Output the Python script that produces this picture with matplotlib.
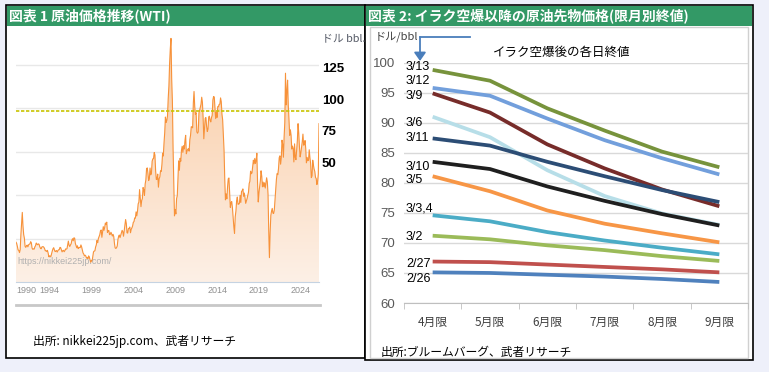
import numpy as np
import matplotlib
matplotlib.use("Agg")
import matplotlib.pyplot as plt
from matplotlib.patches import Rectangle, FancyArrowPatch
from matplotlib.colors import LinearSegmentedColormap
from matplotlib.ticker import FixedLocator

plt.rcParams['font.family'] = ['Noto Sans CJK JP', 'DejaVu Sans']

# ---------------- Data: chart 1 (WTI monthly, USD/bbl, Jan 1990 - Mar 2026) -------------
wti_start_year = 1990
wti_monthly = [
    22.9, 22.1, 20.4, 18.4, 18.2, 16.9, 18.6, 27.2, 33.7, 40.0, 32.3, 27.3,
    25.2, 20.5, 19.9, 20.8, 21.2, 20.2, 21.4, 21.7, 21.9, 23.2, 22.5, 19.5,
    18.8, 19.0, 18.9, 20.2, 20.9, 22.4, 21.8, 21.4, 21.9, 21.7, 20.3, 19.4,
    19.1, 20.1, 20.3, 20.3, 19.9, 19.1, 17.9, 18.0, 17.5, 18.2, 16.7, 14.5,
    15.0, 14.8, 14.7, 16.4, 17.9, 19.1, 19.7, 18.4, 17.5, 17.7, 18.1, 17.2,
    18.0, 18.5, 18.6, 19.9, 19.7, 18.4, 17.3, 18.0, 18.2, 17.4, 18.0, 19.0,
    18.9, 19.1, 21.3, 23.5, 21.2, 20.4, 21.3, 22.0, 24.0, 24.9, 23.7, 25.4,
    25.2, 22.2, 21.0, 19.7, 20.8, 19.2, 19.6, 19.9, 19.8, 21.3, 20.2, 18.3,
    16.7, 16.1, 15.0, 15.4, 14.9, 13.7, 14.1, 13.4, 15.0, 14.4, 12.9, 11.3,
    12.5, 12.0, 14.7, 17.3, 17.8, 17.9, 20.1, 21.3, 23.9, 22.6, 25.0, 26.1,
    27.2, 29.4, 29.9, 25.7, 28.8, 31.8, 29.7, 31.3, 33.9, 33.1, 34.4, 28.5,
    29.6, 29.6, 27.2, 27.4, 28.6, 27.6, 26.4, 27.4, 26.2, 22.2, 19.6, 19.3,
    19.7, 20.7, 24.4, 26.3, 27.0, 25.5, 26.9, 28.4, 29.7, 28.9, 26.3, 29.4,
    32.9, 35.9, 33.6, 28.3, 28.1, 30.7, 30.8, 31.6, 28.3, 30.3, 31.1, 32.2,
    34.3, 34.7, 36.8, 36.7, 40.3, 38.0, 40.7, 44.9, 45.9, 53.1, 48.5, 43.3,
    46.8, 48.0, 54.3, 53.0, 49.8, 56.3, 58.7, 65.0, 65.6, 62.4, 58.3, 59.4,
    65.5, 61.6, 62.7, 69.4, 70.8, 70.9, 74.4, 73.0, 63.8, 58.9, 59.1, 62.0,
    54.5, 59.3, 60.4, 63.9, 63.5, 67.5, 74.1, 72.4, 79.9, 85.8, 94.8, 91.7,
    92.9, 95.4, 105.4, 112.6, 125.4, 134.0, 140.0, 116.7, 104.1, 76.6, 57.3, 38.0,
    41.7, 39.1, 47.9, 49.6, 59.0, 69.6, 64.2, 71.1, 69.4, 75.7, 78.0, 74.5,
    78.3, 76.4, 81.2, 84.3, 73.7, 75.3, 76.3, 76.6, 75.2, 81.9, 84.3, 89.2,
    89.2, 88.6, 102.9, 109.5, 100.9, 96.3, 97.3, 86.3, 85.5, 86.3, 97.2, 98.6,
    100.3, 102.2, 106.2, 103.3, 94.7, 82.3, 87.9, 94.1, 94.5, 89.5, 86.5, 87.9,
    94.8, 95.3, 92.9, 92.0, 94.5, 95.8, 104.6, 106.6, 106.3, 100.5, 93.9, 97.6,
    94.6, 100.8, 100.8, 102.1, 102.2, 105.8, 103.6, 96.5, 93.2, 84.4, 75.8, 59.3,
    47.2, 50.6, 47.8, 54.5, 59.3, 59.8, 50.9, 42.9, 45.5, 46.2, 42.7, 37.3,
    31.8, 28.0, 37.5, 40.8, 46.7, 48.8, 44.7, 44.7, 45.2, 49.8, 45.7, 52.0,
    52.5, 53.5, 49.3, 51.1, 48.5, 45.2, 46.6, 48.0, 49.8, 51.6, 56.6, 57.9,
    63.7, 62.2, 62.7, 66.3, 70.0, 67.9, 71.0, 68.1, 70.2, 74.0, 57.0, 46.0,
    51.4, 55.0, 58.2, 63.9, 60.8, 54.7, 57.4, 54.8, 57.0, 54.0, 57.0, 59.9,
    57.5, 50.5, 29.2, 14.0, 28.5, 38.3, 40.7, 42.3, 39.6, 39.4, 41.4, 47.0,
    52.0, 59.0, 62.3, 61.7, 65.2, 71.4, 72.5, 67.7, 71.6, 81.5, 79.2, 71.7,
    83.2, 91.6, 120.0, 101.8, 109.6, 116.0, 101.6, 93.7, 84.3, 87.5, 84.4, 76.4,
    78.1, 76.8, 69.0, 79.4, 71.6, 70.3, 76.0, 81.4, 91.0, 85.6, 77.7, 71.9,
    74.2, 77.2, 80.6, 85.0, 78.6, 79.0, 81.3, 76.7, 68.5, 71.6, 69.7, 70.1,
    76.0, 71.5, 68.2, 60.0, 61.0, 70.0, 67.2, 64.9, 63.5, 60.1, 59.5, 56.0,
    58.0, 62.0, 91.0,
]
wti_ref_line = 98.0
wti_xtick_years = [1990, 1994, 1999, 2004, 2009, 2014, 2019, 2024]
wti_grid_values = [25, 50, 75, 100, 125]
wti_label_values = [50, 75, 100, 125]

# ---------------- Data: chart 2 (futures by contract month) ----------------
contracts = ['4月限', '5月限', '6月限', '7月限', '8月限', '9月限']
series_names = ['2/26', '2/27', '3/2', '3/3,4', '3/5', '3/6', '3/9', '3/10', '3/11', '3/12', '3/13']
s_0226 = [65.1, 65.0, 64.7, 64.4, 64.0, 63.5]
s_0227 = [66.9, 66.8, 66.4, 66.0, 65.6, 65.1]
s_0302 = [71.2, 70.6, 69.6, 68.8, 67.8, 67.0]
s_0303 = [74.6, 73.6, 71.8, 70.4, 69.2, 68.1]
s_0305 = [81.1, 78.6, 75.4, 73.2, 71.6, 70.1]
s_0306 = [91.0, 87.6, 82.1, 77.8, 74.9, 73.0]
s_0309 = [94.9, 91.7, 86.4, 82.4, 78.9, 76.1]
s_0310 = [83.5, 82.3, 79.4, 77.0, 74.8, 72.9]
s_0311 = [87.4, 86.2, 83.5, 81.1, 78.8, 76.8]
s_0312 = [95.8, 94.5, 90.7, 87.1, 84.1, 81.4]
s_0313 = [98.8, 97.0, 92.4, 88.7, 85.2, 82.6]
series_values = [s_0226, s_0227, s_0302, s_0303, s_0305, s_0306,
                 s_0309, s_0310, s_0311, s_0312, s_0313]
series_colors = ['#4f81bd', '#c0504d', '#9bbb59', '#4bacc6', '#f79646', '#b7dee8',
                 '#772c2a', '#1f1f1f', '#2c4d75', '#729fdc', '#77933c']
label_y = {'3/13': 99.3, '3/12': 96.9, '3/9': 94.5, '3/6': 89.9, '3/11': 87.5,
           '3/10': 82.7, '3/5': 80.4, '3/3,4': 75.7, '3/2': 71.0, '2/27': 66.5,
           '2/26': 64.0}

# ---------------- Figure ----------------
W, H = 769, 372
fig = plt.figure(figsize=(W / 100, H / 100), dpi=100)
fig.patch.set_facecolor('#eef0fa')


def fx(x):
    return x / W


def fy(y):
    return 1 - y / H


def frect(x0, y0, x1, y1, **kw):
    fig.patches.append(Rectangle((fx(x0), fy(y1)), fx(x1) - fx(x0), fy(y0) - fy(y1),
                                 transform=fig.transFigure, **kw))


# panels (behind the axes)
frect(6, 5, 365, 358, facecolor='white', edgecolor='black', lw=1.2, zorder=-3)
frect(365, 5, 753, 360, facecolor='white', edgecolor='black', lw=1.2, zorder=-3)
frect(370, 27, 748, 358, facecolor='none', edgecolor='#d0d0d0', lw=1.0, zorder=-2)
# headers
frect(6.6, 6, 364.4, 26, facecolor='#339966', edgecolor='none', zorder=-1)
frect(365.6, 6, 752.4, 26, facecolor='#339966', edgecolor='none', zorder=-1)
fig.text(fx(9), fy(16), '図表 1 原油価格推移(WTI)', color='white', fontsize=10,
         fontweight='bold', va='center', ha='left')
fig.text(fx(368), fy(16), '図表 2: イラク空爆以降の原油先物価格(限月別終値)', color='white',
         fontsize=10, fontweight='bold', va='center', ha='left')

# ---------------- Left chart ----------------
ax1 = fig.add_axes([fx(16), fy(282), fx(319) - fx(16), fy(33) - fy(282)])
ax1.patch.set_alpha(0)
t = wti_start_year + np.arange(len(wti_monthly)) / 12.0
v = np.array(wti_monthly)
ymax1 = (282 - 33) / 1.74
poly = ax1.fill_between(t, v, 0, facecolor='none', edgecolor='none')
cmap = LinearSegmentedColormap.from_list('peach', ['#fdf0e6', '#f9cba3'])
grad = np.linspace(0, 1, 256).reshape(-1, 1)
img = ax1.imshow(grad, extent=[t[0], t[-1], 0, 140], origin='lower', aspect='auto',
                 cmap=cmap, zorder=1)
img.set_clip_path(poly.get_paths()[0], transform=ax1.transData)
ax1.plot(t, v, color='#f7923a', lw=0.8, zorder=3)
ax1.axhline(wti_ref_line, color='#c8c400', lw=1.2, ls=(0, (2, 1)), zorder=4)
ax1.set_xlim(t[0], t[-1])
ax1.set_ylim(0, ymax1)
ax1.yaxis.set_major_locator(FixedLocator(wti_grid_values))
ax1.yaxis.grid(True, color='#e8e8e8', lw=1)
ax1.set_axisbelow(True)
ax1.tick_params(axis='y', length=0, labelleft=False)
ax1.set_xticks(wti_xtick_years)
ax1.set_xticklabels([str(y) for y in wti_xtick_years],
                    family=['Liberation Sans', 'DejaVu Sans'], fontsize=6.5, color='#909090')
ax1.get_xticklabels()[0].set_ha('left')
ax1.tick_params(axis='x', length=0, pad=3)
for s in ['top', 'right', 'left']:
    ax1.spines[s].set_visible(False)
ax1.spines['bottom'].set_color('#c5d3e2')
ax1.text(t[0] + 0.2, 12, 'https://nikkei225jp.com/', fontsize=6.5, color='#b0b0b0',
         family=['Liberation Sans', 'DejaVu Sans'], va='center', zorder=5)

ax1b = ax1.twinx()
ax1b.patch.set_alpha(0)
ax1b.set_ylim(-45.7, 152.9)
ax1b.set_yticks(wti_label_values)
ax1b.set_yticklabels([str(x) for x in wti_label_values], fontweight='bold',
                     family=['Liberation Sans', 'DejaVu Sans'], fontsize=9.5, color='black')
ax1b.tick_params(axis='y', length=0, pad=2)
for s in ['top', 'right', 'left', 'bottom']:
    ax1b.spines[s].set_visible(False)

fig.text(fx(322), fy(38), 'ドル bbl.', fontsize=7.8, color='#555a66', va='center', ha='left')
fig.lines.append(plt.Line2D([fx(16), fx(320)], [fy(305), fy(305)], color='#c8c8c8', lw=2,
                            transform=fig.transFigure))
fig.text(fx(33), fy(341), '出所: nikkei225jp.com、武者リサーチ', fontsize=8.5, color='black',
         va='center', ha='left')

# ---------------- Right chart ----------------
ax2 = fig.add_axes([fx(404), fy(303), fx(748) - fx(404), fy(62.7) - fy(303)])
ax2.patch.set_alpha(0)
xs = np.arange(len(contracts))
for name, vals, col in zip(series_names, series_values, series_colors):
    ax2.plot(xs, vals, color=col, lw=2.7, solid_capstyle='butt', solid_joinstyle='round',
             zorder=3)
for name in series_names:
    ax2.text(-0.465, label_y[name], name, fontsize=9, color='black', va='center', ha='left',
             family=['Liberation Sans', 'DejaVu Sans'], zorder=4)
ax2.set_xlim(-0.5, len(contracts) - 0.5)
ax2.set_ylim(60, 100)
ax2.set_yticks(np.arange(60, 101, 5))
ax2.set_yticklabels([str(int(y)) for y in np.arange(60, 101, 5)],
                    family=['Liberation Sans', 'DejaVu Sans'], fontsize=9.5, color='#595959')
ax2.tick_params(axis='y', length=0, pad=6.5)
ax2.yaxis.grid(True, color='#d9d9d9', lw=1)
ax2.set_axisbelow(True)
ax2.set_xticks(xs)
ax2.set_xticklabels(contracts, fontsize=8.5, color='#404040')
ax2.tick_params(axis='x', which='major', length=0, pad=9)
ax2.set_xticks(np.arange(-0.5, len(contracts)), minor=True)
ax2.tick_params(axis='x', which='minor', length=4, color='#bfbfbf', direction='out')
for s in ['top', 'right', 'left']:
    ax2.spines[s].set_visible(False)
ax2.spines['bottom'].set_color('#bfbfbf')

fig.text(fx(375), fy(37), 'ドル/bbl', fontsize=8, color='#404040', va='center', ha='left')
arrow_col = '#4a7ebb'
fig.lines.append(plt.Line2D([fx(420), fx(470)], [fy(37), fy(37)], color=arrow_col, lw=1.3,
                            transform=fig.transFigure))
fig.add_artist(FancyArrowPatch(
    (fx(420), fy(37)), (fx(420), fy(61)), transform=fig.transFigure,
    arrowstyle='-|>,head_length=5,head_width=3.5', color=arrow_col, lw=1.3,
    shrinkA=0, shrinkB=0))
fig.text(fx(562), fy(52), 'イラク空爆後の各日終値', fontsize=9, color='black', va='center',
         ha='center')
fig.text(fx(381), fy(352), '出所:ブルームバーグ、武者リサーチ', fontsize=8.5, color='black',
         va='center', ha='left')

fig.savefig('out.png', dpi=100, facecolor=fig.get_facecolor())
